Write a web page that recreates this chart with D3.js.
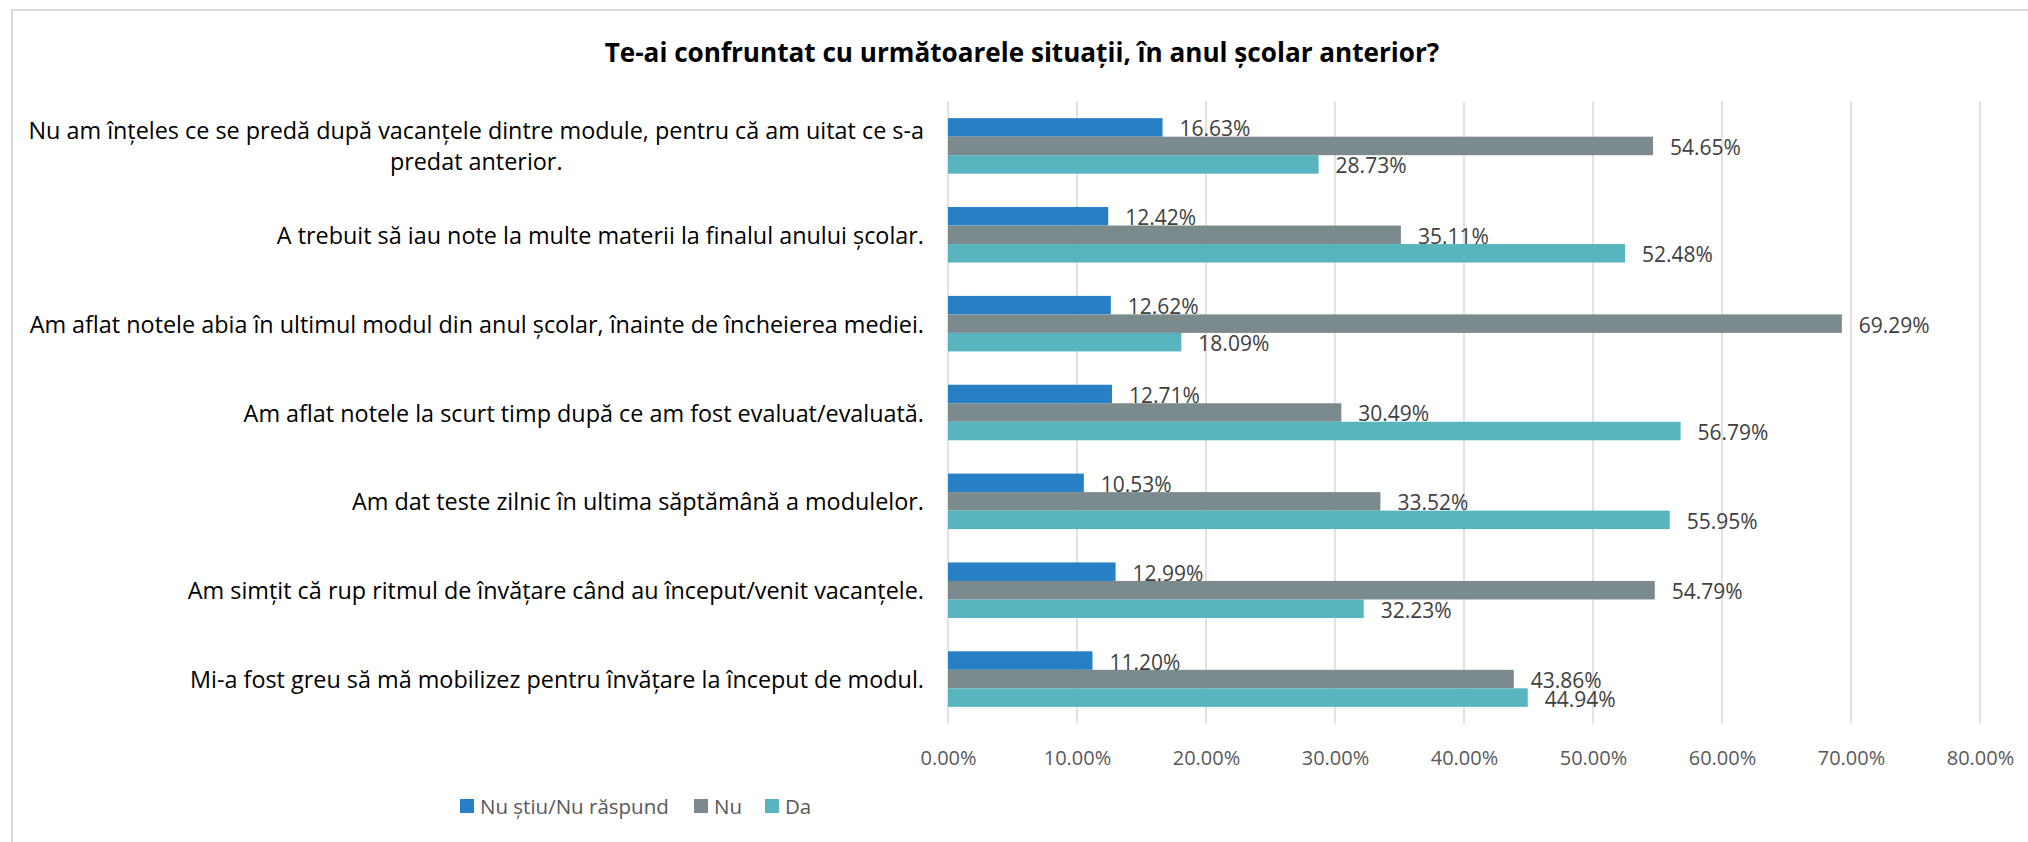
<!DOCTYPE html>
<html>
<head>
<meta charset="utf-8">
<script src="https://cdn.jsdelivr.net/npm/d3@7"></script>
<style>
  body { margin: 0; background: #fff; }
  text { font-family: "Open Sans", sans-serif; }
</style>
</head>
<body>
<svg width="2028" height="842"></svg>
<script>
var svg = d3.select("svg");
var width = +svg.attr("width");
var height = +svg.attr("height");

// data
var categories = [
    ["Nu am înțeles ce se predă după vacanțele dintre module, pentru că am uitat ce s-a", "predat anterior."],
    ["A trebuit să iau note la multe materii la finalul anului școlar."],
    ["Am aflat notele abia în ultimul modul din anul școlar, înainte de încheierea mediei."],
    ["Am aflat notele la scurt timp după ce am fost evaluat/evaluată."],
    ["Am dat teste zilnic în ultima săptămână a modulelor."],
    ["Am simțit că rup ritmul de învățare când au început/venit vacanțele."],
    ["Mi-a fost greu să mă mobilizez pentru învățare la început de modul."]
];
var seriesNames = ["Nu știu/Nu răspund", "Nu", "Da"];
var nuStiu = [16.63, 12.42, 12.62, 12.71, 10.53, 12.99, 11.20];
var nu = [54.65, 35.11, 69.29, 30.49, 33.52, 54.79, 43.86];
var da = [28.73, 52.48, 18.09, 56.79, 55.95, 32.23, 44.94];
var ticks = [0, 10, 20, 30, 40, 50, 60, 70, 80];
var colors = ["#2780c6", "#7b8b8d", "#58b5bf"];

var series = [nuStiu, nu, da];
var rows = categories.map(function(c, i){
    return { label: c, values: series.map(function(s){ return s[i]; }) };
});

// chart frame (only left + top edge show in the picture)
svg.append("path")
    .attr("d", "M12,850 L12,10 L2030,10")
    .attr("fill", "none")
    .attr("stroke", "#d9d9d9")
    .attr("stroke-width", 2);

var x = d3.scaleLinear().domain([0, 80]).range([948, 1980]);
var y = d3.scaleBand().domain(d3.range(categories.length))
    .range([101.5, 723.5]).paddingInner(0.375).paddingOuter(0.1875);
var ySub = d3.scaleBand().domain(d3.range(3)).range([0, y.bandwidth()]);

// title
var title = svg.append("text")
    .attr("x", 1022)
    .attr("y", 52)
    .attr("text-anchor", "middle")
    .attr("dominant-baseline", "central")
    .attr("font-weight", "bold")
    .attr("fill", "#000")
    .attr("font-size", 22)
    .text("Te-ai confruntat cu următoarele situații, în anul școlar anterior?");
fitWidth(title, 835);

// gridlines
svg.append("g").selectAll("line")
    .data(ticks)
    .enter()
    .append("line")
    .attr("x1", function(d){ return x(d); })
    .attr("x2", function(d){ return x(d); })
    .attr("y1", 101.5)
    .attr("y2", 723.5)
    .attr("stroke", "#d9d9d9")
    .attr("stroke-width", 1.5);

// tick labels
var xAxis = svg.append("g")
    .attr("transform", "translate(0,723.5)")
    .call(d3.axisBottom(x).tickValues(ticks).tickSize(0)
        .tickFormat(function(d){ return d.toFixed(2) + "%"; }));
xAxis.select(".domain").remove();
xAxis.selectAll("text")
    .attr("y", 33.5)
    .attr("dy", null)
    .attr("dominant-baseline", "central")
    .attr("font-family", "Open Sans, sans-serif")
    .attr("font-size", 20)
    .attr("fill", "#595959");

// category labels
var catG = svg.append("g");
var lineH = 31;
rows.forEach(function(r, i){
    var cy = y(i) + y.bandwidth() / 2;
    var t = catG.append("text")
        .attr("class", "cat")
        .attr("font-size", 20)
        .attr("fill", "#000")
        .attr("text-anchor", r.label.length > 1 ? "middle" : "end");
    r.label.forEach(function(line, j){
        t.append("tspan")
            .attr("x", 924)
            .attr("y", cy + (j - (r.label.length - 1) / 2) * lineH)
            .attr("dominant-baseline", "central")
            .text(line);
    });
});
// size the font so the longest label is as wide as in the picture
var longest = catG.selectAll("text.cat").filter(function(d, i){ return i === 2; });
var w0 = longest.node().getComputedTextLength();
var fs = 20 * 895 / w0;
catG.selectAll("text.cat").attr("font-size", fs);
catG.selectAll("text.cat").each(function(){
    var t = d3.select(this);
    if (t.attr("text-anchor") === "middle") {
        var maxW = 0;
        t.selectAll("tspan").each(function(){
            maxW = Math.max(maxW, this.getComputedTextLength());
        });
        t.selectAll("tspan").attr("x", 924 - maxW / 2);
    }
});

// bars
var group = svg.append("g").selectAll("g")
    .data(rows)
    .enter()
    .append("g")
    .attr("transform", function(d, i){ return "translate(0," + y(i) + ")"; });

group.selectAll("rect")
    .data(function(d){ return d.values; })
    .enter()
    .append("rect")
    .attr("x", x(0))
    .attr("y", function(d, k){ return ySub(k); })
    .attr("width", function(d){ return x(d) - x(0); })
    .attr("height", ySub.bandwidth())
    .attr("fill", function(d, k){ return colors[k]; });

group.selectAll("text")
    .data(function(d){ return d.values; })
    .enter()
    .append("text")
    .attr("x", function(d){ return x(d) + 17; })
    .attr("y", function(d, k){ return ySub(k) + ySub.bandwidth() / 2 + 1; })
    .attr("dominant-baseline", "central")
    .attr("font-size", 21)
    .attr("fill", "#404040")
    .text(function(d){ return d.toFixed(2) + "%"; });

// legend
var legendX = [460, 694, 765];
var legend = svg.append("g").selectAll("g")
    .data(seriesNames)
    .enter()
    .append("g")
    .attr("transform", function(d, i){ return "translate(" + legendX[i] + ",799)"; });
legend.append("rect")
    .attr("width", 14)
    .attr("height", 14)
    .attr("fill", function(d, i){ return colors[i]; });
legend.append("text")
    .attr("x", 20)
    .attr("y", 7)
    .attr("dominant-baseline", "central")
    .attr("font-size", 20.5)
    .attr("fill", "#595959")
    .text(function(d){ return d; });

function fitWidth(sel, target){
    var fsz = +sel.attr("font-size");
    var w = sel.node().getComputedTextLength();
    sel.attr("font-size", fsz * target / w);
}
</script>
</body>
</html>
